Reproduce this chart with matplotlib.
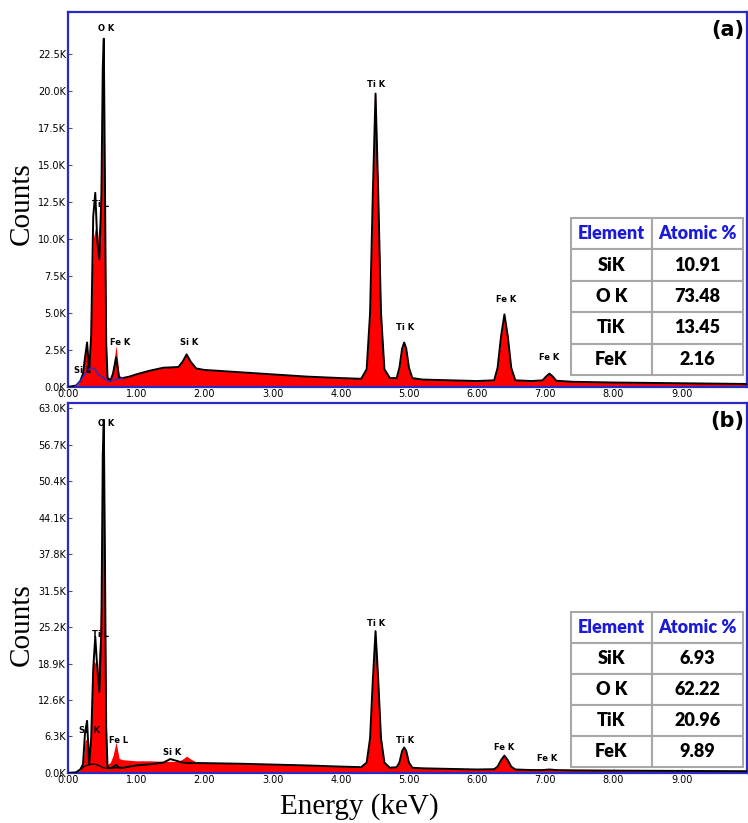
import matplotlib.pyplot as plt
import numpy as np

# energy grid (keV) shared by both spectra
energy = [0.00, 0.12, 0.18, 0.22, 0.25, 0.28, 0.31, 0.34, 0.37, 0.40,
          0.43, 0.46, 0.49, 0.51, 0.525, 0.54, 0.56, 0.58, 0.62, 0.66,
          0.705, 0.75, 0.80, 0.90, 1.00, 1.20, 1.40, 1.50,
          1.62, 1.68, 1.74, 1.80, 1.88, 2.00,
          2.50, 3.00, 3.50, 4.00, 4.30,
          4.38, 4.43, 4.47, 4.51, 4.55, 4.59, 4.64, 4.72,
          4.82, 4.86, 4.90, 4.93, 4.96, 5.00, 5.05, 5.20,
          6.00, 6.25, 6.30, 6.35, 6.40, 6.45, 6.50, 6.56,
          6.80, 6.96, 7.01, 7.06, 7.11, 7.16, 7.40,
          8.00, 9.00, 10.00]

# panel (a) counts in K: measured (red) and fitted line (black)
counts_a = [0, 0, 0.4, 1.0, 2.2, 3.1, 1.2, 4.5, 10.0, 10.7,
            9.8, 11.0, 13.8, 21.0, 23.0, 14.0, 3.0, 0.7, 0.6, 1.2,
            2.8, 0.8, 0.6, 0.7, 0.85, 1.1, 1.3, 1.32,
            1.35, 1.7, 2.2, 1.7, 1.25, 1.15,
            1.0, 0.85, 0.7, 0.6, 0.55,
            1.2, 5.0, 13.0, 19.8, 13.0, 5.0, 1.2, 0.6,
            0.6, 1.3, 2.6, 3.0, 2.6, 1.3, 0.6, 0.5,
            0.4, 0.45, 1.3, 3.4, 4.9, 3.4, 1.3, 0.45,
            0.4, 0.45, 0.7, 0.9, 0.7, 0.42, 0.35,
            0.3, 0.25, 0.2]
fit_a = [0, 0.1, 0.4, 0.9, 2.0, 3.0, 1.0, 3.5, 11.5, 13.1,
         9.8, 8.6, 13.0, 21.5, 23.5, 15.0, 3.0, 0.6, 0.4, 0.9,
         2.0, 0.6, 0.6, 0.7, 0.85, 1.1, 1.3, 1.32,
         1.35, 1.7, 2.2, 1.7, 1.25, 1.15,
         1.0, 0.85, 0.7, 0.6, 0.55,
         1.2, 5.0, 13.0, 19.8, 13.0, 5.0, 1.2, 0.6,
         0.6, 1.3, 2.6, 3.0, 2.6, 1.3, 0.6, 0.5,
         0.4, 0.45, 1.3, 3.4, 4.9, 3.4, 1.3, 0.45,
         0.4, 0.45, 0.7, 0.9, 0.7, 0.42, 0.35,
         0.3, 0.25, 0.2]

# panel (b)
counts_b = [0, 0, 0.5, 1.5, 5.5, 6.0, 2.0, 8.0, 19.5, 19.0,
            16.5, 22.0, 34.0, 55.0, 60.5, 38.0, 8.0, 1.5, 1.8, 3.0,
            5.3, 2.5, 2.3, 2.2, 2.1, 2.1, 2.0, 2.0,
            2.0, 2.4, 2.9, 2.4, 1.9, 1.8,
            1.6, 1.45, 1.3, 1.1, 1.0,
            1.8, 6.0, 16.0, 24.5, 16.0, 6.0, 1.8, 0.9,
            1.0, 1.8, 3.8, 4.4, 3.8, 1.8, 0.9, 0.8,
            0.6, 0.65, 1.1, 2.2, 3.0, 2.2, 1.1, 0.6,
            0.5, 0.5, 0.55, 0.6, 0.55, 0.5, 0.45,
            0.4, 0.35, 0.3]
fit_b = [0, 0.1, 0.6, 1.5, 7.0, 9.0, 1.5, 6.0, 18.0, 23.5,
         18.0, 14.0, 25.0, 55.0, 61.0, 40.0, 8.0, 1.0, 0.8, 1.0,
         1.4, 0.9, 0.9, 1.1, 1.3, 1.5, 1.8, 2.4,
         2.0, 1.8, 1.7, 1.7, 1.7, 1.7,
         1.6, 1.45, 1.3, 1.1, 1.0,
         1.8, 6.0, 16.0, 24.5, 16.0, 6.0, 1.8, 0.9,
         1.0, 1.8, 3.8, 4.4, 3.8, 1.8, 0.9, 0.8,
         0.6, 0.65, 1.1, 2.2, 3.0, 2.2, 1.1, 0.6,
         0.5, 0.5, 0.55, 0.6, 0.55, 0.5, 0.45,
         0.4, 0.35, 0.3]

# low-energy background curves
bg_energy = [0.10, 0.18, 0.25, 0.33, 0.40, 0.45, 0.50, 0.55, 0.60, 0.70, 0.80]
bg_a = [0.0, 0.4, 0.9, 1.3, 1.2, 0.8, 0.7, 0.5, 0.4, 0.5, 0.6]
bg_b = [0.0, 0.6, 1.2, 1.5, 1.5, 1.3, 1.0, 0.8, 0.8, 0.9, 0.9]

# peak labels: text, energy, height (K)
labels_a = [("O K", 0.56, 23.9), ("Ti L", 0.47, 12.0), ("Si L", 0.22, 0.8), ("Fe K", 0.76, 2.7),
            ("Si K", 1.78, 2.7), ("Ti K", 4.52, 20.1), ("Ti K", 4.95, 3.7), ("Fe K", 6.43, 5.6),
            ("Fe K", 7.06, 1.7)]
labels_b = [("O K", 0.56, 59.6), ("Ti L", 0.47, 23.2), ("Si  K", 0.32, 6.5), ("Fe L", 0.74, 4.8),
            ("Si K", 1.53, 2.8), ("Ti K", 4.52, 25.0), ("Ti K", 4.95, 4.9), ("Fe K", 6.40, 3.7),
            ("Fe K", 7.03, 1.8)]

elements = ["SiK", "O K", "TiK", "FeK"]
atomic_a = ["10.91", "73.48", "13.45", "2.16"]
atomic_b = ["6.93", "62.22", "20.96", "9.89"]

yticks_a = [0, 2.5, 5.0, 7.5, 10.0, 12.5, 15.0, 17.5, 20.0, 22.5]
yticks_b = [0, 6.3, 12.6, 18.9, 25.2, 31.5, 37.8, 44.1, 50.4, 56.7, 63.0]
xticks = [0, 1, 2, 3, 4, 5, 6, 7, 8, 9]

frame_blue = "#2b2bc4"


def draw_panel(ax, counts, fit, bg, bg_color, labels, atomic, yticks, ymax, tag, table_y, ylab_y):
    e = np.array(energy)
    ax.fill_between(e, np.array(counts), color="#ff0000", lw=0, zorder=2)
    ax.plot(e, fit, color="k", lw=1.4, zorder=3)
    ax.plot(bg_energy, bg, color=bg_color, lw=1.0, zorder=3)
    for txt, x, y in labels:
        ax.text(x, y, txt, fontsize=6, fontweight="bold", ha="center", va="bottom", zorder=4)
    ax.set_xlim(0, 9.95)
    ax.set_ylim(0, ymax)
    ax.set_xticks(xticks)
    ax.set_xticklabels(["%.2f" % t for t in xticks])
    ax.set_yticks(yticks)
    ax.set_yticklabels(["%.1fK" % t for t in yticks])
    ax.tick_params(direction="in", length=3, width=0.8, color="#555555", labelsize=7, pad=1.5)
    for lab in ax.get_xticklabels() + ax.get_yticklabels():
        lab.set_fontweight("medium")
    for s in ax.spines.values():
        s.set_color(frame_blue)
        s.set_linewidth(1.6)
    ax.text(0.972, 0.952, tag, transform=ax.transAxes, fontsize=15, fontweight="bold",
            ha="center", va="center")
    ax.set_ylabel("Counts", family="Liberation Serif", fontsize=21, va="center")
    ax.yaxis.set_label_coords(-0.068, ylab_y)

    cells = [["Element", "Atomic %"]] + [[el, v] for el, v in zip(elements, atomic)]
    tab = ax.table(cellText=cells, cellLoc="center", bbox=[0.741, table_y, 0.254, 0.419],
                   colWidths=[0.47, 0.53])
    tab.auto_set_font_size(False)
    tab.set_zorder(6)
    for (r, c), cell in tab.get_celld().items():
        cell.set_edgecolor("#a8a8a8")
        cell.set_linewidth(1.5)
        cell.set_facecolor("white")
        cell.get_text().set_fontfamily("Lato")
        cell.get_text().set_fontweight("heavy")
        cell.get_text().set_fontsize(13)
        if r == 0:
            cell.get_text().set_color("#1a1ad8")


fig = plt.figure(figsize=(7.48, 8.23), dpi=100)
ax_a = fig.add_axes([0.0909, 0.5298, 0.9071, 0.4556])
ax_b = fig.add_axes([0.0909, 0.0608, 0.9071, 0.4495])

draw_panel(ax_a, counts_a, fit_a, bg_a, "#2030d0", labels_a, atomic_a, yticks_a, 25.3, "(a)", 0.032, 0.49)
draw_panel(ax_b, counts_b, fit_b, bg_b, "k", labels_b, atomic_b, yticks_b, 63.9, "(b)", 0.016, 0.40)
ax_b.set_xlabel("Energy (keV)", family="Liberation Serif", fontsize=21, va="center")
ax_b.xaxis.set_label_coords(0.43, -0.092)

fig.savefig("out.png", dpi=100)
